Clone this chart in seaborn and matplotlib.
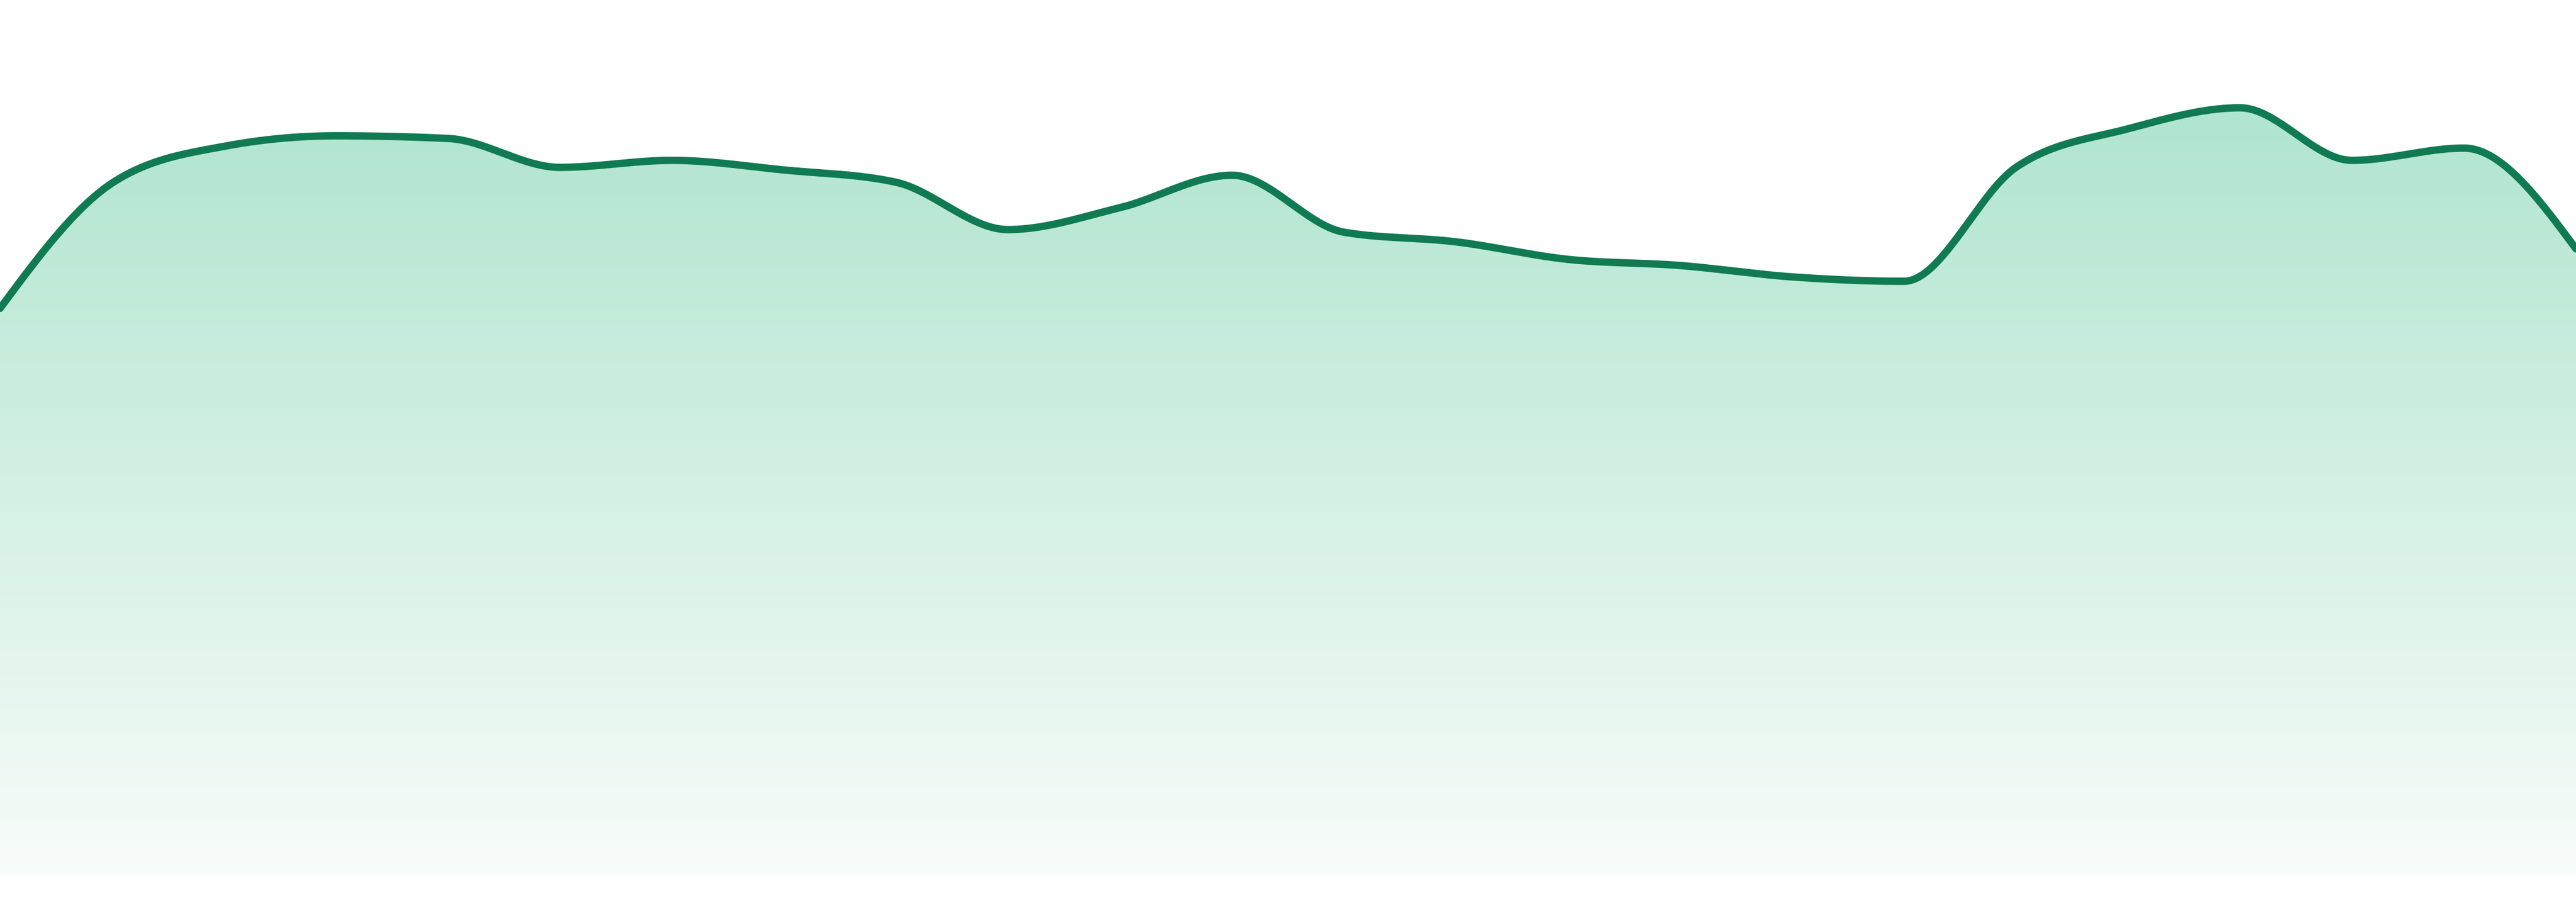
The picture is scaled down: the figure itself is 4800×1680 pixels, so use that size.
import numpy as np
import pandas as pd
import matplotlib
matplotlib.use("Agg")
import matplotlib.pyplot as plt
import seaborn as sns
from matplotlib.colors import LinearSegmentedColormap
from matplotlib.patches import Polygon

# data (share of the plot height, baseline = 0)
steps = list(range(24))
values = [64.8, 79.1, 83.3, 84.5, 84.2, 80.9, 81.7, 80.6, 79.2, 73.8, 76.3, 80.0,
          73.5, 72.4, 70.4, 69.7, 68.4, 67.9, 80.9, 85.3, 87.7, 81.7, 83.1, 71.6]

line_color = "#107b52"
fill_top = "#b0e5cf"
fill_bottom = "#f8fcfa"


def monotone_x(x, y, n=80):
    """d3 curveMonotoneX style smoothing"""
    x = np.asarray(x, float)
    y = np.asarray(y, float)
    h = np.diff(x)
    s = np.diff(y) / h
    t = np.zeros_like(y)
    for i in range(1, len(x) - 1):
        p = (s[i - 1] * h[i] + s[i] * h[i - 1]) / (h[i - 1] + h[i])
        t[i] = (np.sign(s[i - 1]) + np.sign(s[i])) * min(abs(s[i - 1]), abs(s[i]), 0.5 * abs(p))
    t[0] = (3 * s[0] - t[1]) / 2
    t[-1] = (3 * s[-1] - t[-2]) / 2
    xs, ys = [], []
    for i in range(len(x) - 1):
        u = np.linspace(0, 1, n, endpoint=False)
        dx = h[i]
        p0 = (x[i], y[i])
        p1 = (x[i] + dx / 3, y[i] + dx / 3 * t[i])
        p2 = (x[i + 1] - dx / 3, y[i + 1] - dx / 3 * t[i + 1])
        p3 = (x[i + 1], y[i + 1])
        b = [(1 - u) ** 3, 3 * (1 - u) ** 2 * u, 3 * (1 - u) * u ** 2, u ** 3]
        xs.append(b[0] * p0[0] + b[1] * p1[0] + b[2] * p2[0] + b[3] * p3[0])
        ys.append(b[0] * p0[1] + b[1] * p1[1] + b[2] * p2[1] + b[3] * p3[1])
    xs.append([x[-1]])
    ys.append([y[-1]])
    return np.concatenate(xs), np.concatenate(ys)


sx, sy = monotone_x(steps, values)
curve = pd.DataFrame({"step": sx, "value": sy})

sns.set_style("white")
fig = plt.figure(figsize=(16, 5.6), dpi=300)
ax = fig.add_axes([0, 48 / 1680, 1, 1632 / 1680])
ax.set_xlim(0, 23)
ax.set_ylim(0, 100)

# gradient fill under the curve
cmap = LinearSegmentedColormap.from_list("fade", [fill_bottom, fill_top])
grad = np.linspace(0, 1, 256).reshape(-1, 1)
top = max(values)
img = ax.imshow(grad, cmap=cmap, aspect="auto", origin="lower",
                extent=[0, 23, 0, top], zorder=1)
poly = Polygon(np.column_stack([np.r_[sx, sx[-1], sx[0]], np.r_[sy, 0, 0]]),
               closed=True, facecolor="none", edgecolor="none")
ax.add_patch(poly)
img.set_clip_path(poly)

sns.lineplot(data=curve, x="step", y="value", ax=ax, color=line_color,
             linewidth=3.3, sort=False, estimator=None, zorder=3)

ax.set_xlim(0, 23)
ax.set_ylim(0, 100)
ax.axis("off")
fig.savefig("out.png", dpi=300, facecolor="white")
